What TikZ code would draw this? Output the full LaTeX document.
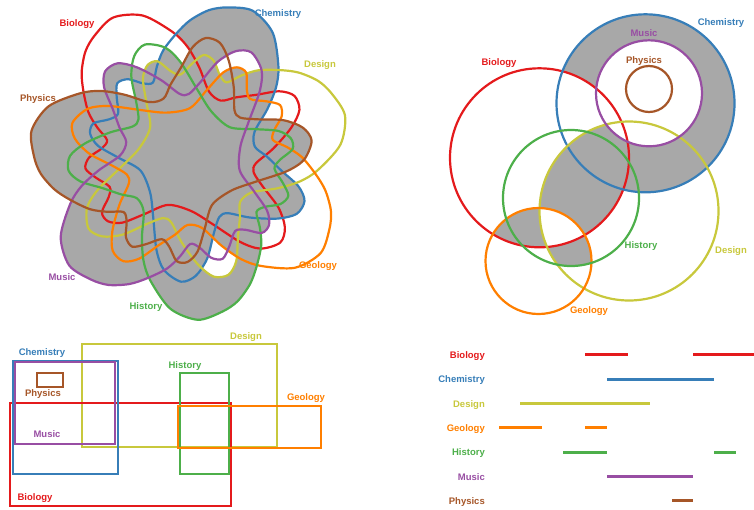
\documentclass[tikz,border=0pt]{standalone}
\usepackage{fontspec}
\setmainfont{Liberation Sans}
\definecolor{cBio}{HTML}{E41A1C}
\definecolor{cChe}{HTML}{377EB8}
\definecolor{cDes}{HTML}{C8C83C}
\definecolor{cGeo}{HTML}{FF7F00}
\definecolor{cHis}{HTML}{4DAF4A}
\definecolor{cMus}{HTML}{984EA3}
\definecolor{cPhy}{HTML}{A65628}
\definecolor{vgrey}{HTML}{A8A8A8}
\def\vpath{plot[smooth cycle] coordinates {(-3.5:156) (5.7:161) (16:151) (26.5:128) (33:112) (40:92) (50:70) (62:66) (71:77) (80:92) (87:112) (93:122) (100:120) (107:106) (117:84) (128:66) (136:65) (145:78) (153:101) (160:117) (167:123) (176:114) (183:97) (195:69) (213:52) (240:51) (254:72) (261:93) (267:103) (273:103) (279:90) (285:85) (293:96) (299:105) (305:101) (311:89) (317:85) (323:98) (329:112) (337:127) (343:139) (350:150)}}
\def\vout{(-2000,-2000) -- (-2000,2000) -- (2000,2000) -- (2000,-2000) -- cycle plot[smooth cycle] coordinates {(-3.5:156) (5.7:161) (16:151) (26.5:128) (33:112) (40:92) (50:70) (62:66) (71:77) (80:92) (87:112) (93:122) (100:120) (107:106) (117:84) (128:66) (136:65) (145:78) (153:101) (160:117) (167:123) (176:114) (183:97) (195:69) (213:52) (240:51) (254:72) (261:93) (267:103) (273:103) (279:90) (285:85) (293:96) (299:105) (305:101) (311:89) (317:85) (323:98) (329:112) (337:127) (343:139) (350:150)}}
\def\rB{-235.8}
\def\rC{72.8}
\def\rD{21.4}
\def\rG{-30.1}
\def\rH{-81.5}
\def\rM{-132.9}
\def\rP{-184.4}
\begin{document}
\begin{tikzpicture}[x=1pt,y=-1pt,
  lab/.style={font=\bfseries\fontsize{9.5}{11}\selectfont, inner sep=0pt},
  ln/.style={line width=2.2pt},
  seg/.style={line width=3pt},
  vT/.style={shift={(190,159)},rotate=#1}
]
\useasboundingbox (0,0) rectangle (754,509);

% ---------- 7-set Venn ----------
\coordinate (vcen) at (190,159);
\foreach \a in {\rC,\rH,\rM,\rP}
  \fill[vgrey,vT=\a] \vpath;
% white zones
\begin{scope}
  \clip[vT=\rC] \vpath; \clip[vT=\rM] \vpath;
  \clip[vT=\rD] \vout; \clip[vT=\rG] \vout; \clip[vT=\rH] \vout; \clip[vT=\rB] \vout;
  \fill[white] (0,0) rectangle (380,320);
\end{scope}
\begin{scope}
  \clip[vT=\rC] \vpath; \clip[vT=\rB] \vpath;
  \clip[vT=\rD] \vout; \clip[vT=\rG] \vout; \clip[vT=\rH] \vout; \clip[vT=\rP] \vout;
  \fill[white] (0,0) rectangle (380,320);
\end{scope}
\begin{scope}
  \clip[vT=\rD] \vpath; \clip[vT=\rH] \vpath;
  \clip[vT=\rC] \vout; \clip[vT=\rB] \vout; \clip[vT=\rG] \vout; \clip[vT=\rP] \vout;
  \fill[white] (0,0) rectangle (380,320);
\end{scope}
\begin{scope}
  \clip[vT=\rB] \vpath; \clip[vT=\rH] \vpath;
  \clip[vT=\rC] \vout; \clip[vT=\rD] \vout; \clip[vT=\rG] \vout; \clip[vT=\rM] \vout; \clip[vT=\rP] \vout;
  \fill[white] (0,0) rectangle (380,320);
\end{scope}
\draw[ln,cBio,vT=\rB] \vpath;
\draw[ln,cChe,vT=\rC] \vpath;
\draw[ln,cDes,vT=\rD] \vpath;
\draw[ln,cGeo,vT=\rG] \vpath;
\draw[ln,cHis,vT=\rH] \vpath;
\draw[ln,cMus,vT=\rM] \vpath;
\draw[ln,cPhy,vT=\rP] \vpath;
\node[lab,text=cBio] (vBio) at (77,24) {Biology};
\node[lab,text=cChe] (vChe) at (278,14) {Chemistry};
\node[lab,text=cDes] (vDes) at (320,65) {Design};
\node[lab,text=cPhy] (vPhy) at (38,99) {Physics};
\node[lab,text=cMus] (vMus) at (62,277) {Music};
\node[lab,text=cHis] (vHis) at (146,307) {History};
\node[lab,text=cGeo] (vGeo) at (318,266) {Geology};

% ---------- Euler circles ----------
\def\eC{(645.5,103.3) circle[radius=89]}
\def\eM{(649,93.3) circle[radius=53]}
\def\eP{(649,89) circle[radius=23]}
\def\eB{(539.5,157.8) circle[radius=89.5]}
\def\eH{(571,198) circle[radius=68]}
\def\eD{(629,211) circle[radius=89.5]}
\def\eG{(538.5,261) circle[radius=53]}
\fill[vgrey] \eC;
\begin{scope}\clip \eC; \fill[white] \eB;\end{scope}
\begin{scope}\clip \eC; \clip \eB; \fill[vgrey] \eD;\end{scope}
\begin{scope}\clip \eB; \clip \eD; \fill[vgrey] \eH;\end{scope}
\begin{scope}\clip \eB; \fill[vgrey] \eG;\end{scope}
\begin{scope}\clip \eH; \clip \eG; \fill[vgrey] \eD;\end{scope}
\begin{scope}\clip \eB; \clip \eD; \fill[white] \eG;\end{scope}
\fill[white] \eM;
\draw[ln,cBio] \eB;
\draw[ln,cChe] \eC;
\draw[ln,cDes] \eD;
\draw[ln,cGeo] \eG;
\draw[ln,cHis] \eH;
\draw[ln,cMus] \eM;
\draw[ln,cPhy] \eP;
\node[lab,text=cChe] (eChe) at (721,23) {Chemistry};
\node[lab,text=cMus] (eMus) at (644,33) {Music};
\node[lab,text=cPhy] (ePhy) at (644,61) {Physics};
\node[lab,text=cBio] (eBio) at (499,63) {Biology};
\node[lab,text=cHis] (eHis) at (641,246) {History};
\node[lab,text=cDes] (eDes) at (731,251) {Design};
\node[lab,text=cGeo] (eGeo) at (589,311) {Geology};

% ---------- rectangles ----------
\draw[ln,cDes] (81.7,344) rectangle (276.7,446.7);
\draw[ln,cBio] (10,402.7) rectangle (231,505.7);
\draw[ln,cChe] (13.3,360.7) rectangle (118.3,474);
\draw[ln,cMus] (15,362.3) rectangle (115,444.3);
\draw[ln,cPhy] (36.7,373.3) rectangle (62.7,387.3);
\draw[ln,cHis] (180,372.7) rectangle (229,474.3);
\draw[ln,cGeo] (177.7,405.7) rectangle (320.7,448.3);
\node[lab,text=cDes] (rDes) at (246,337) {Design};
\node[lab,text=cChe] (rChe) at (42,353) {Chemistry};
\node[lab,text=cPhy] (rPhy) at (43,394.5) {Physics};
\node[lab,text=cMus] (rMus) at (47,434.5) {Music};
\node[lab,text=cBio] (rBio) at (35,498) {Biology};
\node[lab,text=cHis] (rHis) at (185,366) {History};
\node[lab,text=cGeo] (rGeo) at (306,398) {Geology};

% ---------- linear diagram ----------
\node[lab,text=cBio,anchor=east] (lBio) at (485,356.5) {Biology};
\node[lab,text=cChe,anchor=east] (lChe) at (485,380.5) {Chemistry};
\node[lab,text=cDes,anchor=east] (lDes) at (485,405) {Design};
\node[lab,text=cGeo,anchor=east] (lGeo) at (485,429) {Geology};
\node[lab,text=cHis,anchor=east] (lHis) at (485,453) {History};
\node[lab,text=cMus,anchor=east] (lMus) at (485,477.5) {Music};
\node[lab,text=cPhy,anchor=east] (lPhy) at (485,502) {Physics};
\draw[seg,cBio] (585,354.5) -- (628,354.5);
\draw[seg,cBio] (693,354.5) -- (754,354.5);
\draw[seg,cChe] (607,379) -- (714,379);
\draw[seg,cDes] (520,403.5) -- (650,403.5);
\draw[seg,cGeo] (499,427.5) -- (542,427.5);
\draw[seg,cGeo] (585,427.5) -- (607,427.5);
\draw[seg,cHis] (563,452) -- (607,452);
\draw[seg,cHis] (714,452) -- (736,452);
\draw[seg,cMus] (607,476) -- (693,476);
\draw[seg,cPhy] (672,500.5) -- (693,500.5);
\end{tikzpicture}
\end{document}
